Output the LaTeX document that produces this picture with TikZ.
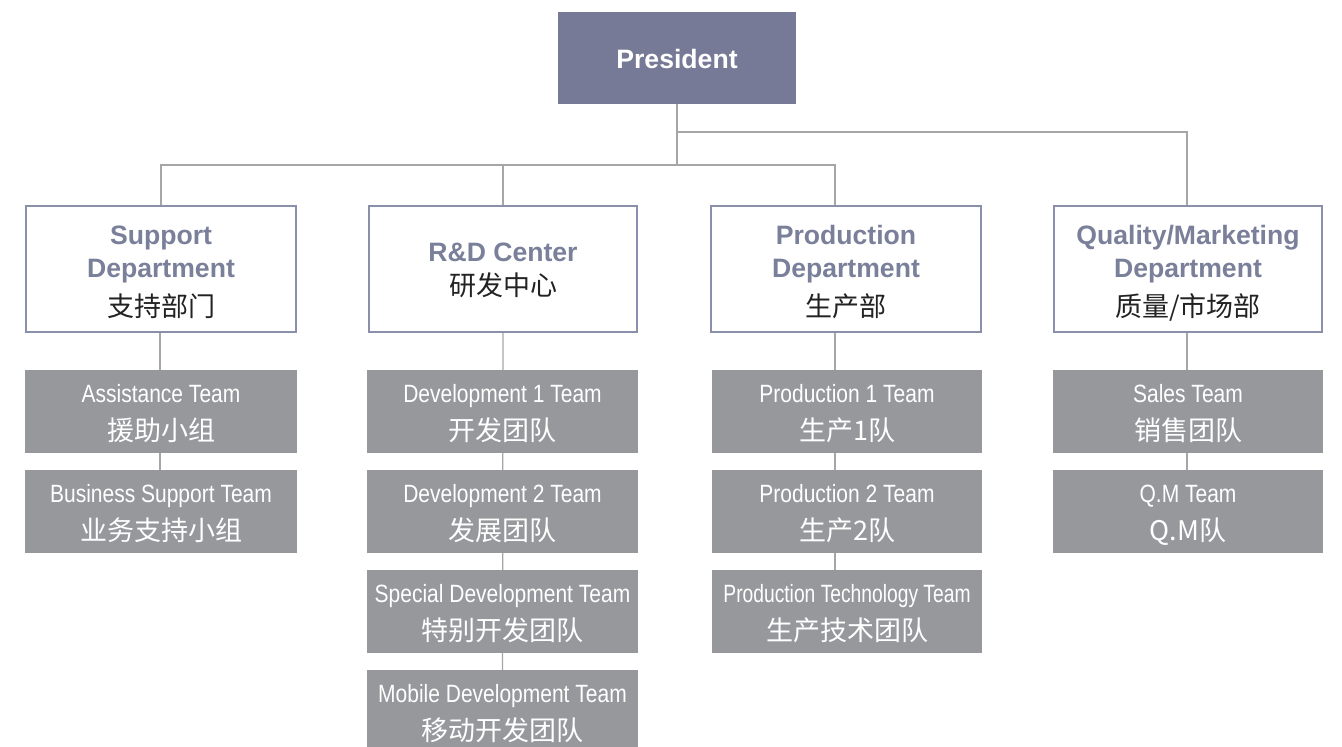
\documentclass[tikz,border=0pt]{standalone}
\usepackage{fontspec}
\usetikzlibrary{backgrounds}
\setmainfont{Liberation Sans}
\newfontfamily\condfont{Liberation Sans}[FakeStretch=0.84]
\newfontfamily\condfontn{Liberation Sans}[FakeStretch=0.77]
\newfontfamily\cjk{Noto Sans CJK SC}
\definecolor{presfill}{HTML}{777A96}
\definecolor{deptline}{HTML}{8A90AC}
\definecolor{depttext}{HTML}{7A7F9A}
\definecolor{teamfill}{HTML}{97989C}
\definecolor{connc}{HTML}{A6A6A6}
\definecolor{zhdark}{HTML}{222222}
\tikzset{
  conn/.style={draw=connc, line width=1.3pt},
  presbox/.style={fill=presfill, draw=none, minimum width=238pt, minimum height=92pt, inner sep=0pt, outer sep=0pt},
  deptbox/.style={fill=white, draw=deptline, line width=2pt, minimum height=126pt, inner sep=0pt, outer sep=0pt},
  teambox/.style={fill=teamfill, draw=none, minimum height=83pt, inner sep=0pt, outer sep=0pt, anchor=north west},
  boldtxt/.style={inner sep=0pt, anchor=base, font=\fontsize{26.6}{32}\selectfont\bfseries},
  depten/.style={boldtxt, text=depttext},
  deptzh/.style={inner sep=0pt, anchor=base, text=zhdark, font=\cjk\fontsize{27}{30}\selectfont},
  teamen/.style={inner sep=0pt, anchor=base, text=white, font=\condfont\fontsize{25}{28}\selectfont},
  teamzh/.style={inner sep=0pt, anchor=base, text=white, font=\cjk\fontsize{27}{30}\selectfont},
}
\newcommand\tbox[6]{% name, left, top, width, en, zh
  \node[teambox, minimum width=#4pt] (#1) at (#2,#3) {};
  \node[teamen] (#1en) at ([yshift=-32pt]#1.north) {#5};
  \node[teamzh] (#1zh) at ([yshift=-70pt]#1.north) {#6};
}
\begin{document}
\begin{tikzpicture}[x=1pt,y=-1pt]
\useasboundingbox (0,0) rectangle (1342,747);
\clip (0,0) rectangle (1342,747);

% top-level nodes
\node[presbox] (pres) at (677,58) {};
\node[boldtxt, text=white] (prestxt) at (677,68) {President};

\node[deptbox, minimum width=270pt] (sup) at (161,269) {};
\node[deptbox, minimum width=268pt] (rd) at (503,269) {};
\node[deptbox, minimum width=270pt] (prod) at (846,269) {};
\node[deptbox, minimum width=268pt] (qm) at (1188,269) {};

% department texts
\node[depten] (supen1) at ([yshift=-38pt]sup.north) {Support};
\node[depten] (supen2) at ([yshift=-71pt]sup.north) {Department};
\node[deptzh] (supzh) at ([yshift=-110pt]sup.north) {支持部门};

\node[depten] (rden) at ([yshift=-55pt]rd.north) {R\&D Center};
\node[deptzh] (rdzh) at ([yshift=-89pt]rd.north) {研发中心};

\node[depten] (proden1) at ([yshift=-38pt]prod.north) {Production};
\node[depten] (proden2) at ([yshift=-71pt]prod.north) {Department};
\node[deptzh] (prodzh) at ([yshift=-110pt]prod.north) {生产部};

\node[depten] (qmen1) at ([yshift=-38pt]qm.north) {Quality/Marketing};
\node[depten] (qmen2) at ([yshift=-71pt]qm.north) {Department};
\node[deptzh] (qmzh) at ([yshift=-110pt]qm.north) {质量/市场部};

% team boxes
\tbox{s1}{25}{370}{272}{Assistance Team}{援助小组}
\tbox{s2}{25}{470}{272}{Business Support Team}{业务支持小组}

\tbox{r1}{367}{370}{271}{Development 1 Team}{开发团队}
\tbox{r2}{367}{470}{271}{Development 2 Team}{发展团队}
\tbox{r3}{367}{570}{271}{Special Development Team}{特别开发团队}
\tbox{r4}{367}{670}{271}{Mobile Development Team}{移动开发团队}

\tbox{p1}{712}{370}{270}{Production 1 Team}{生产1队}
\tbox{p2}{712}{470}{270}{Production 2 Team}{生产2队}
\tbox{p3}{712}{570}{270}{{\condfontn Production Technology Team}}{生产技术团队}

\tbox{q1}{1053}{370}{270}{Sales Team}{销售团队}
\tbox{q2}{1053}{470}{270}{Q.M Team}{Q.M队}

% connectors behind the boxes
\begin{pgfonlayer}{background}
\fill[white] (0,0) rectangle (1342,747);
\draw[conn] (pres.south) -- ++(0,60);
\draw[conn] (sup.north) -- ++(0,-41) -| ([xshift=-11pt]prod.north);
\draw[conn] (rd.north) -- ++(0,-41);
\draw[conn] (pres.south) ++(0,28) -| ([xshift=-1pt]qm.north);
\draw[conn] ([xshift=-1pt]sup.south) -- ([xshift=-1pt]s2.north);
\draw[conn] (rd.south) -- (r4.north);
\draw[conn] ([xshift=-11pt]prod.south) -- ([xshift=-12pt]p3.north);
\draw[conn] ([xshift=-1pt]qm.south) -- ([xshift=-1pt]q2.north);
\end{pgfonlayer}
\end{tikzpicture}
\end{document}
